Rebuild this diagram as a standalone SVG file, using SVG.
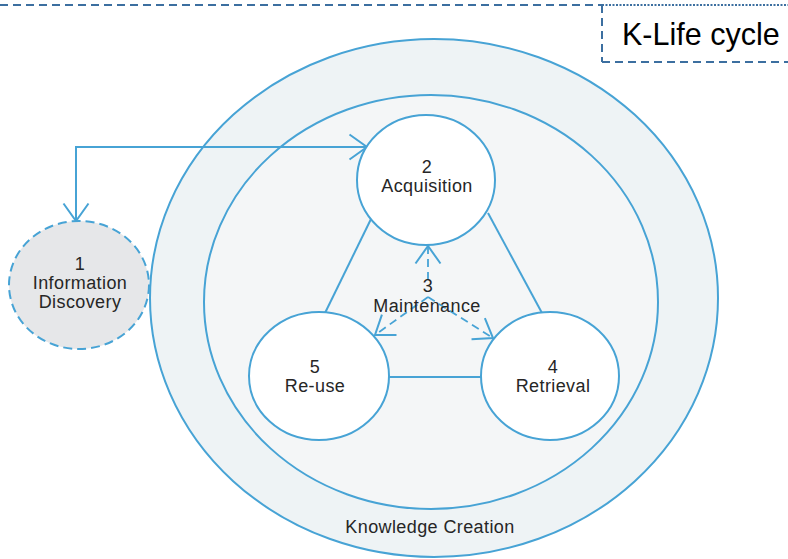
<svg xmlns="http://www.w3.org/2000/svg" width="788" height="559" viewBox="0 0 788 559">
  <style>
    .ring { stroke: #47a3d5; stroke-width: 2; }
    .node { fill: #ffffff; stroke: #47a3d5; stroke-width: 2; }
    .lbl { font-family: "Liberation Sans", Arial, sans-serif; font-size: 18px; fill: #262626; text-anchor: middle; letter-spacing: 0.4px; }
    .link { fill: none; stroke: #47a3d5; stroke-width: 2; }
    .dlink { fill: none; stroke: #47a3d5; stroke-width: 1.8; stroke-dasharray: 8 5; }
    .frame { fill: none; stroke: #3c6fa0; stroke-width: 2; stroke-dasharray: 8 5; }
  </style>
  <defs>
    <marker id="vee" markerUnits="userSpaceOnUse" markerWidth="30" markerHeight="30" viewBox="-16 -12 20 24" refX="0" refY="0" orient="auto" overflow="visible">
      <path d="M-14,-10 L0,0 L-14,10" fill="none" stroke="#47a3d5" stroke-width="1.6"/>
    </marker>
  </defs>

  <rect width="788" height="559" fill="#ffffff"/>

  <!-- title frame -->
  <g id="title">
    <line class="frame" x1="0" y1="5" x2="602" y2="5"/>
    <line x1="602" y1="5" x2="788" y2="5" stroke="#3c6fa0" stroke-width="2" stroke-dasharray="2 1.5"/>
    <line class="frame" x1="602" y1="5" x2="602" y2="62"/>
    <line class="frame" x1="602" y1="62" x2="788" y2="62"/>
    <text x="622" y="45" font-family="'Liberation Sans', Arial, sans-serif" font-size="30.5px" fill="#000000">K-Life cycle</text>
  </g>

  <!-- knowledge creation rings -->
  <g id="knowledge-creation">
    <ellipse class="ring" cx="434" cy="298" rx="284" ry="259" fill="#eef3f5"/>
    <ellipse class="ring" cx="431" cy="302" rx="227" ry="207" fill="#f4f6f7"/>
    <text class="lbl" x="430" y="533">Knowledge Creation</text>
  </g>

  <!-- connectors -->
  <g id="connectors">
    <line class="link" x1="371" y1="219" x2="325" y2="313"/>
    <line class="link" x1="488" y1="213" x2="542" y2="313"/>
    <line class="link" x1="389" y1="377" x2="481" y2="377"/>
    <line class="link" x1="76" y1="147" x2="367" y2="147" marker-end="url(#vee)"/>
    <line class="link" x1="76" y1="146" x2="76" y2="221" marker-end="url(#vee)"/>
    <line class="dlink" x1="428" y1="280" x2="428" y2="246" marker-end="url(#vee)"/>
    <line class="dlink" x1="428" y1="297" x2="375" y2="335" marker-end="url(#vee)"/>
    <line class="dlink" x1="428" y1="297" x2="493" y2="338" marker-end="url(#vee)"/>
  </g>

  <g id="n1-information-discovery">
    <ellipse cx="79" cy="285" rx="70" ry="64" fill="#e6e7e9" stroke="#47a3d5" stroke-width="2" stroke-dasharray="9 5"/>
    <text class="lbl" x="80" y="270">1</text>
    <text class="lbl" x="80" y="289">Information</text>
    <text class="lbl" x="80" y="308">Discovery</text>
  </g>

  <g id="n2-acquisition">
    <ellipse class="node" cx="426" cy="180" rx="69" ry="65"/>
    <text class="lbl" x="427" y="173">2</text>
    <text class="lbl" x="427" y="192">Acquisition</text>
  </g>

  <g id="n3-maintenance">
    <text class="lbl" x="428" y="292">3</text>
    <text class="lbl" x="427" y="312">Maintenance</text>
  </g>

  <g id="n4-retrieval">
    <ellipse class="node" cx="550" cy="376" rx="69" ry="64"/>
    <text class="lbl" x="553" y="373">4</text>
    <text class="lbl" x="553" y="392">Retrieval</text>
  </g>

  <g id="n5-re-use">
    <ellipse class="node" cx="319" cy="376" rx="70" ry="64"/>
    <text class="lbl" x="315" y="373">5</text>
    <text class="lbl" x="315" y="392">Re-use</text>
  </g>
</svg>
